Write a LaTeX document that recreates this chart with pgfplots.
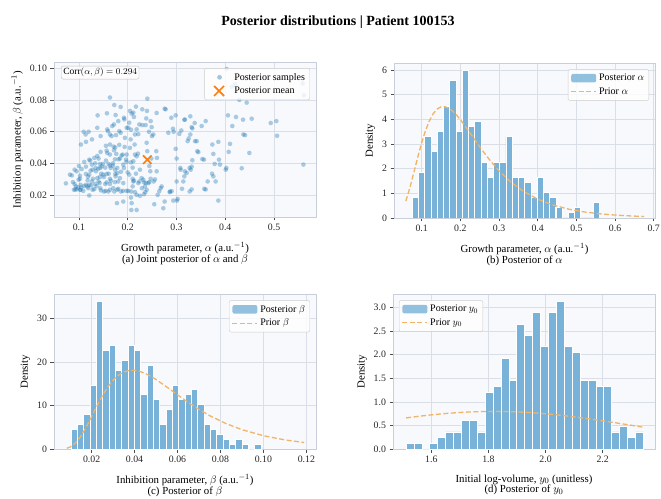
\documentclass[border=0pt]{standalone}
\usepackage{fontspec}
\setmainfont{Liberation Serif}
\usepackage{pgfplots}
\pgfplotsset{compat=1.18}
\definecolor{tabblue}{RGB}{31,119,180}
\definecolor{barfill}{RGB}{120,178,216}
\definecolor{priorc}{RGB}{240,180,105}
\definecolor{taborange}{RGB}{255,127,14}
\definecolor{axbg}{RGB}{247,249,252}
\definecolor{gridc}{RGB}{218,222,230}
\definecolor{framec}{RGB}{200,207,218}
\pgfplotsset{
  panel/.style={
    scale only axis, width=262pt, height=155pt, anchor=south west,
    axis background/.style={fill=axbg},
    axis line style={framec, line width=0.8pt},
    grid=major, major grid style={gridc, line width=0.6pt},
    tick align=outside, tick pos=left,
    major tick length=3.5pt, tick style={black!70, line width=0.6pt},
    ticklabel style={font=\fontsize{9.8}{11}\selectfont, text=black!85},
    /pgf/number format/assume math mode=true,
    scaled ticks=false,
    label style={font=\fontsize{10.8}{10.8}\selectfont},
    xlabel style={align=center, yshift=-5pt},
    legend style={font=\fontsize{10}{12}\selectfont, draw=black!20, rounded corners=2pt,
      fill=white, fill opacity=0.8, text opacity=1, inner sep=2.5pt, row sep=1pt,
      nodes={inner sep=2.2pt}},
    legend cell align=left,
  },
  histleg/.style={legend image code/.code={\path[fill=barfill, draw=none] (0pt,-4.3pt) rectangle (25pt,4.3pt);}},
  priorleg/.style={legend image code/.code={\draw[priorc, line width=1.3pt, dash pattern=on 5pt off 2.5pt] (0pt,0pt) -- (25pt,0pt);}},
  sampleg/.style={legend image code/.code={\path[draw=none, fill=none] (0pt,0pt) -- (25pt,0pt); \path[draw=none, fill=tabblue, fill opacity=0.4] (12.5pt,0pt) circle (2.4pt);}},
  meanleg/.style={legend image code/.code={\path[draw=none, fill=none] (0pt,0pt) -- (25pt,0pt); \draw[taborange, line width=1.7pt] (7pt,-5pt) -- (17pt,5pt) (7pt,5pt) -- (17pt,-5pt);}},
}
\begin{document}
\begin{tikzpicture}
\path[use as bounding box] (0pt,0pt) rectangle (661pt,498pt);
\node[font=\fontsize{14}{16}\selectfont\bfseries] at (338pt,475.5pt) {Posterior distributions | Patient 100153};

% (a) scatter
\begin{axis}[panel, at={(54pt,281pt)},
  xmin=0.0489, xmax=0.586, ymin=0.0065, ymax=0.1038,
  xtick={0.1,0.2,0.3,0.4,0.5},
  ytick={0.02,0.04,0.06,0.08,0.10},
  yticklabel style={/pgf/number format/fixed, /pgf/number format/fixed zerofill, /pgf/number format/precision=2},
  xlabel={Growth parameter, $\alpha$ (a.u.$^{-1}$)\\(a) Joint posterior of $\alpha$ and $\beta$},
  ylabel={Inhibition parameter, $\beta$ (a.u.$^{-1}$)},
  legend style={at={(0.977,0.96)}, anchor=north east},
]
\addplot[only marks, mark=*, mark size=2.3pt, color=tabblue, mark options={draw opacity=0, fill=tabblue, fill opacity=0.37}, sampleg] table {
0.1636 0.0815
0.2402 0.0808
0.1725 0.0768
0.1855 0.0756
0.2169 0.0758
0.2046 0.0731
0.2115 0.0720
0.2299 0.0741
0.2395 0.0731
0.2593 0.0718
0.2757 0.0745
0.2778 0.0741
0.1383 0.0703
0.1574 0.0716
0.1752 0.0705
0.1923 0.0688
0.1930 0.0678
0.2080 0.0714
0.2128 0.0693
0.2381 0.0684
0.2470 0.0667
0.2894 0.0688
0.2983 0.0703
0.3161 0.0676
0.3174 0.0676
0.3284 0.0697
0.3373 0.0655
0.3516 0.0636
0.3598 0.0667
0.4056 0.0703
0.4220 0.0693
0.4145 0.0636
0.4364 0.0676
0.4542 0.0682
0.4289 0.0800
0.4439 0.0783
0.4132 0.0882
0.4200 0.0899
0.4029 0.0994
0.5588 0.0903
0.5615 0.0829
0.4932 0.0655
0.5048 0.0667
0.5062 0.0575
0.5602 0.0394
0.4494 0.0467
0.4371 0.0583
0.4405 0.0579
0.4337 0.0371
0.4097 0.0524
0.4070 0.0474
0.4022 0.0373
0.4009 0.0362
0.3858 0.0537
0.3735 0.0520
0.3756 0.0461
0.3872 0.0425
0.3892 0.0394
0.3783 0.0398
0.3728 0.0337
0.3756 0.0320
0.3803 0.0288
0.3639 0.0288
0.3571 0.0242
0.3598 0.0238
0.3858 0.0168
0.3414 0.0541
0.3427 0.0478
0.3448 0.0472
0.3530 0.0429
0.3564 0.0425
0.3325 0.0421
0.3311 0.0381
0.3270 0.0373
0.3291 0.0362
0.3174 0.0352
0.3209 0.0341
0.3161 0.0320
0.3311 0.0238
0.3270 0.0225
0.3113 0.0242
0.3003 0.0288
0.3140 0.0288
0.3024 0.0179
0.3010 0.0168
0.2935 0.0168
0.3079 0.0373
0.3085 0.0362
0.3003 0.0432
0.2983 0.0493
0.2833 0.0594
0.2942 0.0600
0.3058 0.0587
0.2928 0.0619
0.3099 0.0608
0.3311 0.0629
0.3325 0.0621
0.3250 0.0558
0.3229 0.0541
0.3284 0.0583
0.3380 0.0541
0.2867 0.0225
0.2901 0.0227
0.2860 0.0221
0.2757 0.0162
0.2730 0.0120
0.2545 0.0145
0.2614 0.0204
0.2648 0.0227
0.2675 0.0246
0.2696 0.0257
0.2532 0.0288
0.2559 0.0301
0.2443 0.0284
0.2470 0.0305
0.2593 0.0352
0.2463 0.0352
0.2443 0.0385
0.2484 0.0432
0.2586 0.0478
0.2600 0.0436
0.2402 0.0478
0.2388 0.0531
0.2497 0.0573
0.2525 0.0583
0.2436 0.0600
0.2491 0.0629
0.2368 0.0642
0.2299 0.0642
0.2238 0.0646
0.2149 0.0583
0.2217 0.0585
0.2183 0.0615
0.2251 0.0362
0.2285 0.0309
0.2320 0.0299
0.2333 0.0282
0.2238 0.0288
0.2217 0.0278
0.2374 0.0278
0.2422 0.0278
0.2292 0.0246
0.2354 0.0257
0.2361 0.0221
0.2388 0.0236
0.2333 0.0208
0.2251 0.0198
0.2183 0.0204
0.2149 0.0221
0.2067 0.0187
0.2080 0.0152
0.2074 0.0109
0.2183 0.0109
0.1909 0.0162
0.1780 0.0152
0.1978 0.0229
0.2012 0.0229
0.2074 0.0225
0.1862 0.0225
0.1903 0.0229
0.2101 0.0257
0.2115 0.0288
0.2128 0.0293
0.2101 0.0305
0.2032 0.0331
0.1998 0.0345
0.2169 0.0337
0.2101 0.0375
0.2067 0.0408
0.2115 0.0415
0.2149 0.0457
0.2183 0.0446
0.2142 0.0520
0.2210 0.0463
0.2046 0.0499
0.1937 0.0505
0.1978 0.0457
0.1875 0.0451
0.1896 0.0457
0.1964 0.0425
0.1978 0.0411
0.1909 0.0394
0.1923 0.0373
0.1786 0.0373
0.1786 0.0341
0.1862 0.0349
0.1738 0.0362
0.1745 0.0335
0.1697 0.0402
0.1697 0.0387
0.1609 0.0398
0.1636 0.0387
0.1650 0.0373
0.1738 0.0427
0.1814 0.0427
0.1841 0.0432
0.1636 0.0457
0.1766 0.0461
0.1568 0.0482
0.1581 0.0467
0.1718 0.0484
0.1711 0.0507
0.1745 0.0501
0.1827 0.0518
0.1636 0.0520
0.1554 0.0512
0.1444 0.0474
0.1376 0.0448
0.1315 0.0436
0.1403 0.0432
0.1212 0.0425
0.1232 0.0419
0.1267 0.0394
0.1335 0.0402
0.1342 0.0373
0.1431 0.0398
0.1465 0.0383
0.1492 0.0398
0.1540 0.0375
0.1109 0.0411
0.1144 0.0381
0.1239 0.0356
0.1280 0.0362
0.1349 0.0352
0.1438 0.0373
0.1397 0.0368
0.1458 0.0337
0.1499 0.0331
0.1568 0.0335
0.1609 0.0337
0.1431 0.0316
0.1376 0.0309
0.1513 0.0316
0.1636 0.0305
0.1656 0.0293
0.1752 0.0320
0.1807 0.0288
0.1841 0.0309
0.1704 0.0246
0.1725 0.0225
0.1786 0.0236
0.1807 0.0242
0.1602 0.0225
0.1636 0.0236
0.1513 0.0225
0.1547 0.0229
0.1438 0.0246
0.1451 0.0232
0.1335 0.0272
0.1362 0.0259
0.1403 0.0288
0.1267 0.0288
0.1287 0.0305
0.1178 0.0295
0.1185 0.0318
0.1212 0.0331
0.1144 0.0335
0.1021 0.0324
0.1055 0.0366
0.1000 0.0385
0.0911 0.0362
0.0952 0.0352
0.0815 0.0331
0.0856 0.0326
0.0733 0.0276
0.0877 0.0284
0.0911 0.0272
0.0938 0.0257
0.0952 0.0238
0.0993 0.0299
0.1021 0.0305
0.1034 0.0267
0.1048 0.0251
0.1109 0.0259
0.1144 0.0267
0.1178 0.0257
0.1191 0.0246
0.1212 0.0267
0.1253 0.0263
0.1315 0.0240
0.1280 0.0236
0.1021 0.0236
0.1034 0.0236
0.1089 0.0229
0.1212 0.0200
0.0925 0.0238
0.0897 0.0236
0.0979 0.0251
0.1540 0.0272
0.1568 0.0282
0.1424 0.0278
0.1636 0.0272
0.1738 0.0284
0.1909 0.0278
0.1554 0.0419
0.1444 0.0573
0.1267 0.0552
0.1144 0.0537
0.1041 0.0520
0.1096 0.0600
0.1198 0.0600
0.1137 0.0583
0.1376 0.0625
0.1581 0.0615
0.1595 0.0604
0.1636 0.0583
0.1670 0.0573
0.1759 0.0579
0.1827 0.0604
0.1855 0.0594
0.1718 0.0646
0.1684 0.0636
0.1807 0.0667
0.2032 0.0657
0.1978 0.0625
0.2012 0.0625
0.2067 0.0613
0.1944 0.0562
0.2060 0.0552
};
\addlegendentry{Posterior samples}
\addplot[only marks, mark=x, mark size=6pt, line width=1.7pt, taborange, meanleg] coordinates {(0.2402,0.0425)};
\addlegendentry{Posterior mean}
\node[anchor=north west, draw=black!25, rounded corners=2pt, fill=white, fill opacity=0.8, text opacity=1, inner sep=2pt, font=\fontsize{9.5}{10}\selectfont] at (rel axis cs:0.027,0.975) {Corr$(\alpha,\beta)=0.294$};
\end{axis}

% (b) alpha
\begin{axis}[panel, at={(394pt,280pt)}, width=261pt,
  xmin=0.0284, xmax=0.7033, ymin=0, ymax=6.285,
  xtick={0.1,0.2,0.3,0.4,0.5,0.6,0.7},
  ytick={0,1,2,3,4,5,6},
  xlabel={Growth parameter, $\alpha$ (a.u.$^{-1}$)\\(b) Posterior of $\alpha$},
  ylabel={Density},
  legend style={at={(0.977,0.96)}, anchor=north east},
]
\addplot[ybar, bar shift=0pt, bar width=0.01615, fill=barfill, draw=white, line width=0.9pt, histleg] coordinates {
(0.0838,0.826) (0.0999,1.858) (0.1161,3.302) (0.1322,2.683) (0.1484,3.509)
(0.1645,4.541) (0.1807,5.573) (0.1968,3.509) (0.2130,5.986) (0.2291,3.715)
(0.2453,3.922) (0.2614,2.270) (0.2776,1.651) (0.2937,2.270) (0.3099,2.270)
(0.3260,3.302) (0.3422,1.651) (0.3583,1.651) (0.3745,1.445) (0.3906,0.826)
(0.4068,1.651) (0.4229,1.032) (0.4391,0.826) (0.4552,0.413) (0.4714,0)
(0.4875,0.206) (0.5037,0.413) (0.5198,0) (0.5360,0) (0.5521,0.619)};
\addlegendentry{Posterior $\alpha$}
\addplot[priorc, line width=1.3pt, dash pattern=on 5pt off 2.5pt, no markers, priorleg] coordinates {
(0.059,0.686) (0.07,1.258) (0.08,1.861) (0.09,2.477) (0.10,3.052) (0.11,3.549)
(0.12,3.946) (0.13,4.235) (0.14,4.419) (0.15,4.508) (0.16,4.514) (0.17,4.452)
(0.18,4.335) (0.19,4.177) (0.20,3.989) (0.22,3.561) (0.24,3.111) (0.26,2.674)
(0.28,2.272) (0.30,1.914) (0.33,1.464) (0.36,1.111) (0.40,0.763) (0.44,0.523)
(0.48,0.359) (0.52,0.247) (0.56,0.171) (0.60,0.119) (0.64,0.0833) (0.675,0.0613)};
\addlegendentry{Prior $\alpha$}
\end{axis}

% (c) beta
\begin{axis}[panel, at={(54pt,49pt)},
  xmin=0.0025, xmax=0.1245, ymin=0, ymax=35.59,
  xtick={0.02,0.04,0.06,0.08,0.10,0.12},
  xticklabel style={/pgf/number format/fixed, /pgf/number format/fixed zerofill, /pgf/number format/precision=2},
  ytick={0,10,20,30},
  xlabel={Inhibition parameter, $\beta$ (a.u.$^{-1}$)\\(c) Posterior of $\beta$},
  ylabel={Density},
  legend style={at={(0.977,0.96)}, anchor=north east},
]
\addplot[ybar, bar shift=0pt, bar width=0.00295, fill=barfill, draw=white, line width=0.9pt, histleg] coordinates {
(0.01198,4.520) (0.01493,5.650) (0.01788,7.910) (0.02083,14.689) (0.02378,33.898)
(0.02673,22.599) (0.02968,23.729) (0.03263,18.079) (0.03558,20.339) (0.03853,23.729)
(0.04148,22.599) (0.04443,12.429) (0.04738,19.209) (0.05033,11.299) (0.05328,5.650)
(0.05623,9.040) (0.05918,14.689) (0.06213,11.299) (0.06508,12.429) (0.06803,13.559)
(0.07098,10.169) (0.07393,5.650) (0.07688,4.520) (0.07983,3.390) (0.08278,2.260)
(0.08573,1.130) (0.08868,2.260) (0.09163,1.130) (0.09458,0) (0.09753,1.130)};
\addlegendentry{Posterior $\beta$}
\addplot[priorc, line width=1.3pt, dash pattern=on 5pt off 2.5pt, no markers, priorleg] coordinates {
(0.0085,0.176) (0.010,0.450) (0.0125,1.367) (0.015,2.928) (0.0175,5.032) (0.020,7.444)
(0.0225,9.908) (0.025,12.208) (0.0275,14.196) (0.030,15.784) (0.0325,16.940) (0.035,17.676)
(0.0375,18.032) (0.040,18.056) (0.0425,17.808) (0.045,17.340) (0.0475,16.708) (0.050,15.956)
(0.055,14.244) (0.060,12.444) (0.065,10.696) (0.070,9.088) (0.075,7.656) (0.0825,5.856)
(0.090,4.444) (0.100,3.052) (0.110,2.092) (0.119,1.490)};
\addlegendentry{Prior $\beta$}
\end{axis}

% (d) y0
\begin{axis}[panel, at={(393pt,49pt)},
  xmin=1.466, xmax=2.383, ymin=0, ymax=3.289,
  xtick={1.6,1.8,2.0,2.2},
  xticklabel style={/pgf/number format/fixed, /pgf/number format/fixed zerofill, /pgf/number format/precision=1},
  ytick={0,0.5,1,1.5,2,2.5,3},
  yticklabel style={/pgf/number format/fixed, /pgf/number format/fixed zerofill, /pgf/number format/precision=1},
  xlabel={Initial log-volume, $y_0$ (unitless)\\(d) Posterior of $y_0$},
  ylabel={Density},
  legend style={at={(0.023,0.96)}, anchor=north west},
]
\addplot[ybar, bar shift=0pt, bar width=0.02767, fill=barfill, draw=white, line width=0.9pt, histleg] coordinates {
(1.5261,0.1205) (1.5538,0.1205) (1.5815,0) (1.6091,0.1205) (1.6368,0.2409)
(1.6645,0.3614) (1.6921,0.3614) (1.7198,0.6024) (1.7475,0.6024) (1.7752,0.3614)
(1.8028,1.2047) (1.8305,1.3252) (1.8582,1.9275) (1.8859,1.4456) (1.9135,2.6503)
(1.9412,2.4094) (1.9689,2.8913) (1.9965,2.1685) (2.0242,2.8913) (2.0519,3.1322)
(2.0796,2.1685) (2.1072,2.0480) (2.1349,1.4456) (2.1626,1.4456) (2.1902,1.3252)
(2.2179,1.3252) (2.2456,0.3614) (2.2733,0.4819) (2.3009,0.2409) (2.3286,0.3614)};
\addlegendentry{Posterior $y_0$}
\addplot[priorc, line width=1.3pt, dash pattern=on 5pt off 2.5pt, no markers, priorleg] coordinates {
(1.512,0.6600) (1.55,0.6896) (1.60,0.7243) (1.65,0.7531) (1.70,0.7752) (1.75,0.7901)
(1.80,0.7972) (1.85,0.7964) (1.90,0.7877) (1.95,0.7714) (2.00,0.7478) (2.05,0.7178)
(2.10,0.6821) (2.15,0.6417) (2.20,0.5978) (2.25,0.5513) (2.30,0.5033) (2.342,0.4627)};
\addlegendentry{Prior $y_0$}
\end{axis}
\end{tikzpicture}
\end{document}
